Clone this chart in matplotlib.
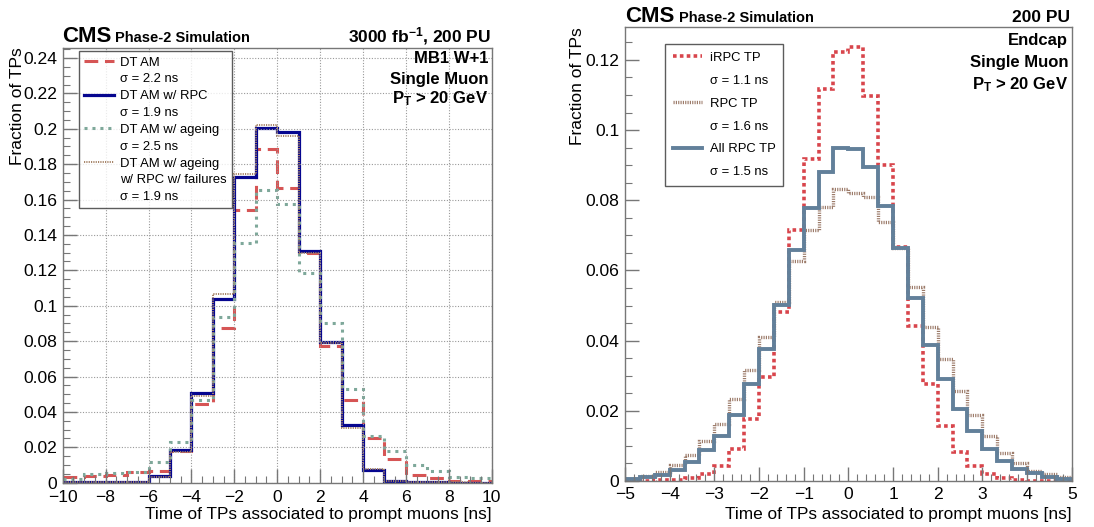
import numpy as np
import matplotlib
matplotlib.use("Agg")
import matplotlib.pyplot as plt
from matplotlib.lines import Line2D
from matplotlib.ticker import MultipleLocator

plt.rcParams["font.family"] = ["Liberation Sans", "DejaVu Sans"]
plt.rcParams["mathtext.default"] = "regular"

# left panel: barrel DT, 1 ns bins
left_edges = np.arange(-10, 11, 1)
dt_am = [0.0030, 0.0036, 0.0045, 0.0059, 0.0067, 0.0180, 0.0444, 0.0874, 0.1540, 0.1885,
         0.1665, 0.1300, 0.0772, 0.0467, 0.0250, 0.0134, 0.0043, 0.0028, 0.0012, 0.0008]
dt_am_rpc = [0.0002, 0.0003, 0.0005, 0.0005, 0.0038, 0.0185, 0.0505, 0.1038, 0.1727, 0.2003,
             0.1980, 0.1310, 0.0795, 0.0325, 0.0072, 0.0010, 0.0004, 0.0002, 0.0001, 0.0001]
dt_am_ageing = [0.0021, 0.0051, 0.0055, 0.0060, 0.0119, 0.0232, 0.0467, 0.0934, 0.1356, 0.1656,
                0.1575, 0.1183, 0.0900, 0.0531, 0.0265, 0.0180, 0.0100, 0.0064, 0.0032, 0.0027]
dt_am_ageing_rpc = [0.0003, 0.0004, 0.0005, 0.0006, 0.0035, 0.0175, 0.0490, 0.1068, 0.1742, 0.2022,
                    0.1960, 0.1300, 0.0787, 0.0307, 0.0075, 0.0012, 0.0005, 0.0003, 0.0002, 0.0001]
left_labels = ["DT AM", "DT AM w/ RPC", "DT AM w/ ageing", "DT AM w/ ageing\nw/ RPC w/ failures"]
left_sigmas = ["2.2", "1.9", "2.5", "1.9"]

# right panel: endcap RPC, 1/3 ns bins
right_edges = np.linspace(-5, 5, 31)
irpc_tp = [0.0, 0.0, 0.0002, 0.0004, 0.0009, 0.0021, 0.0044, 0.0090, 0.0178, 0.0295,
           0.0481, 0.0715, 0.0919, 0.1116, 0.1224, 0.1236, 0.1096, 0.0900, 0.0666, 0.0443,
           0.0276, 0.0157, 0.0084, 0.0043, 0.0021, 0.0008, 0.0003, 0.0001, 0.0, 0.0]
rpc_tp = [0.0005, 0.0015, 0.0027, 0.0046, 0.0075, 0.0115, 0.0163, 0.0235, 0.0316, 0.0411,
          0.0511, 0.0627, 0.0715, 0.0782, 0.0833, 0.0822, 0.0808, 0.0738, 0.0665, 0.0554,
          0.0440, 0.0348, 0.0257, 0.0188, 0.0127, 0.0081, 0.0050, 0.0029, 0.0019, 0.0010]
all_rpc_tp = [0.0005, 0.0010, 0.0018, 0.0031, 0.0055, 0.0087, 0.0128, 0.0189, 0.0277, 0.0377,
              0.0503, 0.0659, 0.0777, 0.0881, 0.0948, 0.0945, 0.0895, 0.0785, 0.0663, 0.0522,
              0.0389, 0.0290, 0.0205, 0.0143, 0.0090, 0.0057, 0.0033, 0.0022, 0.0011, 0.0005]
right_labels = ["iRPC TP", "RPC TP", "All RPC TP"]
right_sigmas = ["1.1", "1.6", "1.5"]

W, H = 1094, 527
fig = plt.figure(figsize=(W / 100, H / 100), dpi=100)


def px_axes(x0, y0, x1, y1):
    return fig.add_axes([x0 / W, 1 - y1 / H, (x1 - x0) / W, (y1 - y0) / H])


def style_axes(ax, xpad):
    for s in ax.spines.values():
        s.set_color("#777777")
        s.set_linewidth(1.0)
    ax.tick_params(which="both", direction="in", top=False, right=False,
                   colors="#777777", labelcolor="black", labelsize=12.6)
    ax.tick_params(which="major", length=10, width=1.0, pad=4)
    ax.tick_params(which="minor", length=5, width=0.8)
    ax.tick_params(axis="x", which="major", pad=xpad)


xlabel = "Time of TPs associated to prompt muons [ns]"

# line styles
ls_red = (0, (4.5, 2.2))
ls_green = (0, (1, 1.6))
ls_brown = (0, (0.6, 0.6))
ls_ired = (0, (1, 0.9))
ls_rbrown = (0, (0.35, 0.35))

# ---------------- left ----------------
axL = px_axes(62.7, 47.7, 491.7, 482.7)
style_axes(axL, 5.3)
c_red, c_blue, c_green, c_brown = "#d65555", "#06068f", "#7ea89a", "#a58266"
axL.stairs(dt_am, left_edges, baseline=None, color=c_red, lw=2.2, linestyle=ls_red)
axL.stairs(dt_am_rpc, left_edges, baseline=None, color=c_blue, lw=2.3)
axL.stairs(dt_am_ageing, left_edges, baseline=None, color=c_green, lw=2.2, linestyle=ls_green)
axL.stairs(dt_am_ageing_rpc, left_edges, baseline=None, color=c_brown, lw=1.4, linestyle=ls_brown)
axL.set_xlim(-10, 10)
axL.set_ylim(0, 0.2458)
axL.xaxis.set_minor_locator(MultipleLocator(0.5))
axL.yaxis.set_minor_locator(MultipleLocator(0.005))
axL.set_yticks(np.arange(0, 0.241, 0.02))
axL.set_yticklabels(["0"] + ["%g" % v for v in np.round(np.arange(0.02, 0.241, 0.02), 2)])
axL.set_xticks(np.arange(-10, 11, 2))
axL.set_xticklabels([("%d" % v).replace("-", "\u2212") for v in np.arange(-10, 11, 2)])
axL.grid(True, which="major", color="#999999", linestyle=(0, (1, 1.5)), linewidth=0.8)

hL = [Line2D([], [], color=c_red, lw=2.2, linestyle=ls_red),
      Line2D([], [], color=c_blue, lw=2.3),
      Line2D([], [], color=c_green, lw=2.2, linestyle=ls_green),
      Line2D([], [], color=c_brown, lw=1.4, linestyle=ls_brown)]
blank = Line2D([], [], color="none")
handles, labels = [], []
for h, lab, sg in zip(hL, left_labels, left_sigmas):
    parts = lab.split("\n")
    handles.append(h)
    labels.append(parts[0])
    for p in parts[1:]:
        handles.append(blank)
        labels.append(p)
    handles.append(blank)
    labels.append("\u03c3 = %s ns" % sg)
legL = axL.legend(handles, labels, loc="upper left", bbox_to_anchor=(0.037, 0.992),
                  fontsize=9.4, frameon=True, fancybox=False, handlelength=2.3,
                  handletextpad=0.5, labelspacing=0.36, borderpad=0.4, borderaxespad=0)
legL.get_frame().set_edgecolor("#333333")
legL.get_frame().set_linewidth(1.0)

fig.text(62 / W, 1 - 41.7 / H, "CMS", fontsize=16, fontweight="bold", va="baseline")
fig.text(115 / W, 1 - 41.7 / H, "Phase-2 Simulation", fontsize=10.5, fontweight="bold", va="baseline")
fig.text(491 / W, 1 - 41.7 / H, "3000 fb$^{-1}$, 200 PU", fontsize=12.5, fontweight="bold",
         ha="right", va="baseline")
for txt, yb in [("MB1 W+1", 63), ("Single Muon", 84), ("P$_{T}$ > 20 GeV", 103.5)]:
    fig.text(488 / W, 1 - yb / H, txt, fontsize=12, fontweight="bold", ha="right", va="baseline")
fig.text(491.7 / W, 1 - 519.5 / H, xlabel, fontsize=12.4, ha="right", va="baseline")
fig.text(25 / W, 1 - 47.7 / H, "Fraction of TPs", fontsize=12.5, rotation=90, ha="right", va="top")

# ---------------- right ----------------
axR = px_axes(625, 27.3, 1071.7, 481)
style_axes(axR, 4.6)
c_ired, c_rbrown, c_slate = "#d8454c", "#9c7b6a", "#62809a"
axR.stairs(irpc_tp, right_edges, baseline=None, color=c_ired, lw=2.6, linestyle=ls_ired)
axR.stairs(rpc_tp, right_edges, baseline=None, color=c_rbrown, lw=2.4, linestyle=ls_rbrown)
axR.stairs(all_rpc_tp, right_edges, baseline=None, color=c_slate, lw=2.8)
axR.set_xlim(-5, 5)
axR.set_ylim(0, 0.1293)
axR.xaxis.set_minor_locator(MultipleLocator(0.2))
axR.yaxis.set_minor_locator(MultipleLocator(0.005))
axR.set_yticks(np.arange(0, 0.121, 0.02))
axR.set_yticklabels(["0"] + ["%g" % v for v in np.round(np.arange(0.02, 0.121, 0.02), 2)])
axR.set_xticks(np.arange(-5, 6, 1))
axR.set_xticklabels([("%d" % v).replace("-", "\u2212") for v in np.arange(-5, 6, 1)])

hR = [Line2D([], [], color=c_ired, lw=2.6, linestyle=ls_ired),
      Line2D([], [], color=c_rbrown, lw=2.4, linestyle=ls_rbrown),
      Line2D([], [], color=c_slate, lw=2.8)]
handles, labels = [], []
for h, lab, sg in zip(hR, right_labels, right_sigmas):
    handles += [h, blank]
    labels += [lab, "\u03c3 = %s ns" % sg]
legR = axR.legend(handles, labels, loc="upper left", bbox_to_anchor=(0.09, 0.963),
                  fontsize=9.4, frameon=True, fancybox=False, handlelength=2.2,
                  handletextpad=0.6, labelspacing=0.82, borderpad=0.6, borderaxespad=0)
legR.get_frame().set_edgecolor("#333333")
legR.get_frame().set_linewidth(1.0)

fig.text(625 / W, 1 - 21.7 / H, "CMS", fontsize=16, fontweight="bold", va="baseline")
fig.text(679 / W, 1 - 21.7 / H, "Phase-2 Simulation", fontsize=10.5, fontweight="bold", va="baseline")
fig.text(1070 / W, 1 - 21.7 / H, "200 PU", fontsize=12.5, fontweight="bold", ha="right", va="baseline")
for txt, yb in [("Endcap", 45), ("Single Muon", 67.5), ("P$_{T}$ > 20 GeV", 89)]:
    fig.text(1068 / W, 1 - yb / H, txt, fontsize=12, fontweight="bold", ha="right", va="baseline")
fig.text(1071.7 / W, 1 - 519.5 / H, xlabel, fontsize=12.4, ha="right", va="baseline")
fig.text(585 / W, 1 - 27.3 / H, "Fraction of TPs", fontsize=12.5, rotation=90, ha="right", va="top")

fig.savefig("out.png", dpi=100)
